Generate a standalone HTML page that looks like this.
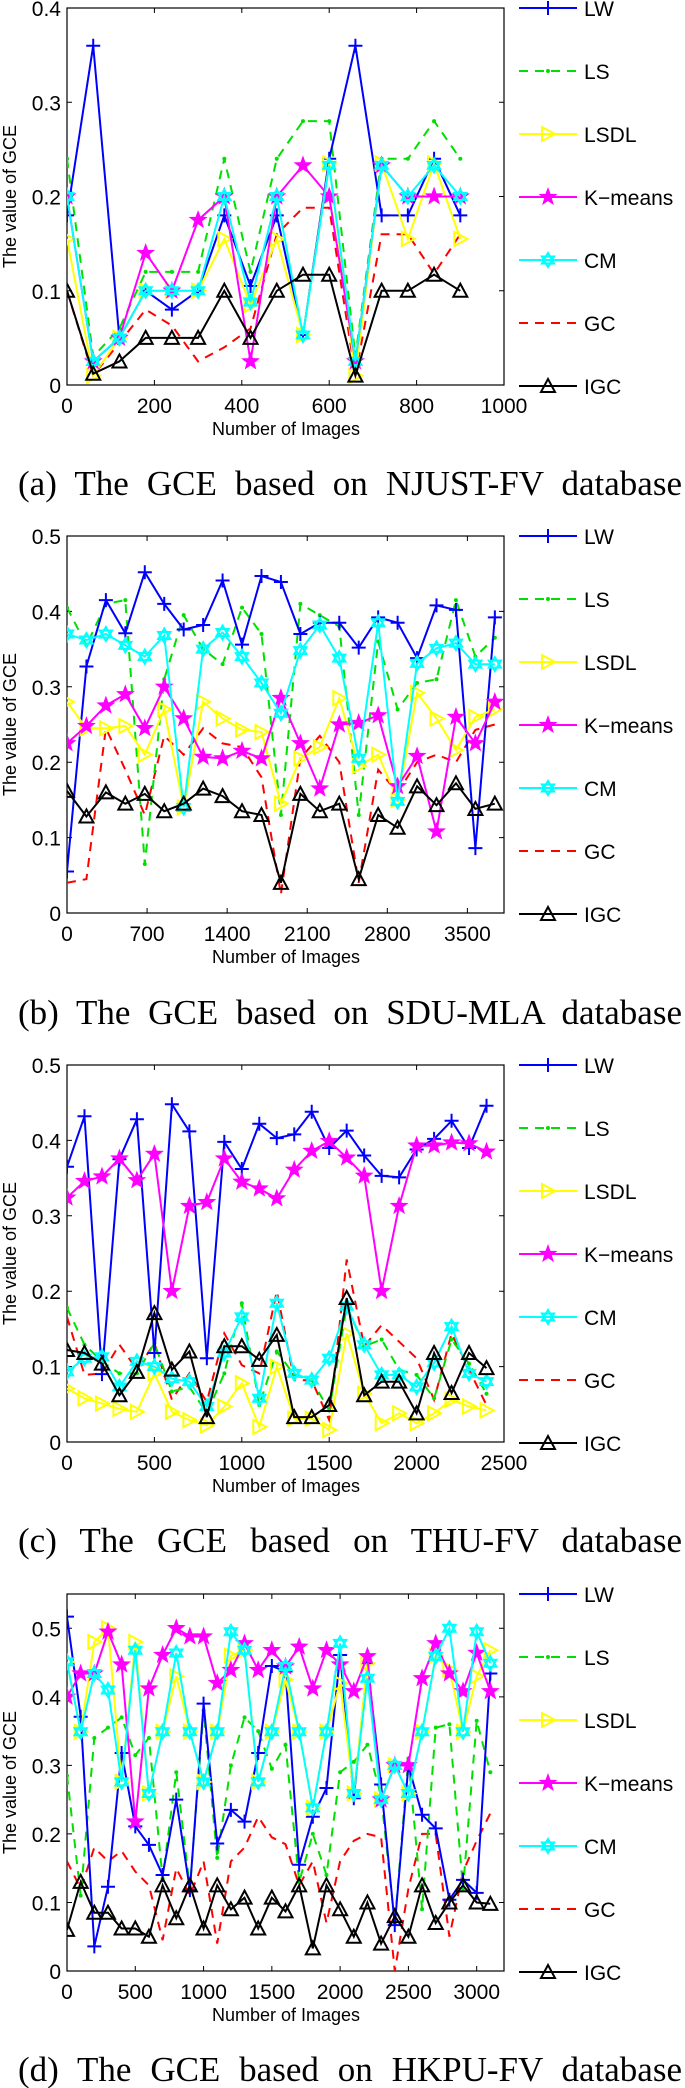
<!DOCTYPE html>
<html><head><meta charset="utf-8"><style>
body{margin:0;background:#fff;width:685px;height:2088px;overflow:hidden}
svg{display:block}
</style></head><body>
<svg id="fig" width="685" height="2088" xmlns="http://www.w3.org/2000/svg" font-family="Liberation Sans, sans-serif"></svg>
<script>
const seriesNames = ["LW","LS","LSDL","K-means","CM","GC","IGC"];
// Panel (a) NJUST-FV
const aX = [0,60,120,180,240,300,360,420,480,540,600,660,720,780,840,900];
const aLW = [0.18,0.36,0.05,0.1,0.08,0.1,0.18,0.105,0.18,0.053,0.24,0.36,0.18,0.18,0.24,0.18];
const aLS = [0.24,0.03,0.06,0.12,0.12,0.12,0.24,0.12,0.24,0.28,0.28,0.03,0.24,0.24,0.28,0.24];
const aLSDL = [0.155,0.01,0.05,0.1,0.1,0.1,0.155,0.085,0.155,0.053,0.235,0.01,0.235,0.155,0.235,0.155];
const aKM = [0.2,0.025,0.05,0.14,0.1,0.175,0.2,0.025,0.2,0.233,0.2,0.025,0.233,0.2,0.2,0.2];
const aCM = [0.2,0.025,0.05,0.1,0.1,0.1,0.2,0.088,0.2,0.053,0.233,0.025,0.233,0.2,0.233,0.2];
const aGC = [0.1,0.01,0.045,0.08,0.063,0.025,0.04,0.06,0.16,0.188,0.188,0.01,0.16,0.16,0.118,0.16];
const aIGC = [0.1,0.012,0.025,0.05,0.05,0.05,0.1,0.05,0.1,0.117,0.117,0.01,0.1,0.1,0.117,0.1];
const aXTicks = [0,200,400,600,800,1000];
const aYTicks = [0,0.1,0.2,0.3,0.4];
// Panel (b) SDU-MLA
const bX = [0,170,340,510,680,850,1020,1190,1360,1530,1700,1870,2040,2210,2380,2550,2720,2890,3060,3230,3400,3570,3740];
const bLW = [0.055,0.327,0.415,0.371,0.452,0.41,0.376,0.382,0.441,0.356,0.447,0.439,0.37,0.385,0.385,0.352,0.392,0.385,0.338,0.408,0.402,0.086,0.392];
const bLS = [0.405,0.355,0.41,0.415,0.065,0.31,0.395,0.35,0.33,0.405,0.37,0.13,0.41,0.395,0.38,0.13,0.36,0.27,0.305,0.31,0.415,0.34,0.365];
const bLSDL = [0.28,0.245,0.245,0.248,0.21,0.27,0.14,0.28,0.258,0.243,0.24,0.145,0.205,0.22,0.285,0.195,0.21,0.15,0.292,0.258,0.216,0.26,0.27];
const bKM = [0.225,0.248,0.275,0.29,0.245,0.3,0.258,0.207,0.205,0.215,0.205,0.285,0.225,0.165,0.25,0.252,0.262,0.168,0.208,0.108,0.26,0.225,0.28];
const bCM = [0.37,0.362,0.37,0.355,0.34,0.368,0.14,0.35,0.372,0.34,0.305,0.265,0.348,0.382,0.338,0.205,0.385,0.148,0.331,0.351,0.358,0.33,0.33];
const bGC = [0.04,0.045,0.245,0.19,0.13,0.235,0.21,0.245,0.225,0.22,0.18,0.025,0.205,0.235,0.2,0.04,0.19,0.16,0.2,0.21,0.2,0.243,0.25];
const bIGC = [0.162,0.128,0.16,0.145,0.158,0.135,0.145,0.165,0.155,0.135,0.13,0.04,0.158,0.135,0.145,0.045,0.13,0.113,0.168,0.143,0.172,0.138,0.145];
const bXTicks = [0,700,1400,2100,2800,3500];
const bYTicks = [0,0.1,0.2,0.3,0.4,0.5];
// Panel (c) THU-FV
const cX = [0,100,200,300,400,500,600,700,800,900,1000,1100,1200,1300,1400,1500,1600,1700,1800,1900,2000,2100,2200,2300,2400];
const cLW = [0.365,0.432,0.09,0.375,0.428,0.118,0.448,0.412,0.111,0.398,0.362,0.422,0.403,0.408,0.438,0.39,0.413,0.38,0.353,0.351,0.388,0.402,0.426,0.39,0.446];
const cLS = [0.178,0.129,0.107,0.091,0.091,0.131,0.067,0.073,0.038,0.091,0.184,0.049,0.12,0.089,0.082,0.042,0.18,0.127,0.136,0.096,0.089,0.058,0.136,0.104,0.064];
const cLSDL = [0.071,0.058,0.051,0.044,0.04,0.091,0.04,0.029,0.022,0.047,0.078,0.02,0.1,0.031,0.031,0.016,0.144,0.064,0.025,0.038,0.025,0.038,0.056,0.047,0.042];
const cKM = [0.324,0.346,0.352,0.376,0.347,0.382,0.2,0.313,0.318,0.376,0.345,0.336,0.323,0.361,0.386,0.399,0.377,0.353,0.2,0.313,0.393,0.393,0.397,0.396,0.385];
const cCM = [0.093,0.111,0.113,0.073,0.107,0.1,0.084,0.08,0.047,0.118,0.166,0.058,0.184,0.091,0.082,0.111,0.18,0.129,0.089,0.089,0.073,0.105,0.153,0.091,0.08];
const cGC = [0.166,0.089,0.091,0.129,0.096,0.131,0.056,0.091,0.053,0.144,0.102,0.091,0.2,0.082,0.082,0.029,0.242,0.127,0.155,0.133,0.111,0.056,0.144,0.096,0.049];
const cIGC = [0.122,0.118,0.104,0.062,0.093,0.171,0.096,0.12,0.033,0.127,0.127,0.109,0.142,0.033,0.033,0.049,0.191,0.062,0.08,0.08,0.038,0.118,0.065,0.118,0.098];
const cXTicks = [0,500,1000,1500,2000,2500];
const cYTicks = [0,0.1,0.2,0.3,0.4,0.5];
// Panel (d) HKPU-FV
const dX = [0,100,200,300,400,500,600,700,800,900,1000,1100,1200,1300,1400,1500,1600,1700,1800,1900,2000,2100,2200,2300,2400,2500,2600,2700,2800,2900,3000,3100];
const dLW = [0.517,0.371,0.036,0.123,0.318,0.211,0.184,0.14,0.25,0.118,0.39,0.186,0.235,0.218,0.318,0.445,0.437,0.155,0.225,0.267,0.461,0.252,0.449,0.272,0.067,0.3,0.228,0.208,0.104,0.133,0.114,0.434];
const dLS = [0.285,0.11,0.34,0.355,0.37,0.315,0.34,0.135,0.29,0.12,0.38,0.165,0.3,0.37,0.35,0.295,0.33,0.13,0.2,0.14,0.29,0.305,0.33,0.255,0.07,0.31,0.09,0.355,0.36,0.12,0.365,0.29];
const dLSDL = [0.451,0.349,0.48,0.5,0.276,0.48,0.259,0.349,0.43,0.349,0.276,0.349,0.46,0.468,0.276,0.349,0.425,0.349,0.238,0.349,0.42,0.259,0.449,0.25,0.3,0.259,0.349,0.46,0.44,0.349,0.43,0.468];
const dKM = [0.4,0.434,0.434,0.495,0.447,0.218,0.412,0.461,0.5,0.488,0.488,0.42,0.439,0.478,0.439,0.468,0.444,0.473,0.412,0.468,0.447,0.408,0.459,0.25,0.3,0.3,0.427,0.478,0.434,0.408,0.464,0.408];
const dCM = [0.451,0.349,0.434,0.41,0.276,0.468,0.259,0.349,0.464,0.349,0.276,0.349,0.495,0.468,0.276,0.349,0.444,0.349,0.238,0.349,0.478,0.259,0.427,0.25,0.3,0.259,0.349,0.459,0.5,0.349,0.495,0.449];
const dGC = [0.16,0.12,0.18,0.16,0.175,0.145,0.125,0.045,0.15,0.11,0.16,0.04,0.16,0.18,0.225,0.195,0.185,0.125,0.16,0.07,0.16,0.19,0.2,0.195,0.0,0.12,0.2,0.2,0.05,0.145,0.19,0.23];
const dIGC = [0.06,0.13,0.085,0.085,0.062,0.062,0.05,0.125,0.077,0.125,0.062,0.125,0.09,0.107,0.062,0.107,0.087,0.125,0.033,0.125,0.09,0.05,0.1,0.04,0.08,0.05,0.125,0.07,0.1,0.125,0.1,0.098];
const dXTicks = [0,500,1000,1500,2000,2500,3000];
const dYTicks = [0,0.1,0.2,0.3,0.4,0.5];

const NS = "http://www.w3.org/2000/svg";
const svg = document.getElementById('fig');
function mk(tag, attrs, parent){const e=document.createElementNS(NS,tag);for(const k in attrs)e.setAttribute(k,attrs[k]);(parent||svg).appendChild(e);return e;}

const styles = [
 {c:'#0000ff',dash:null,m:'plus'},
 {c:'#00e000',dash:'9,7',m:'dot'},
 {c:'#ffff00',dash:null,m:'tri-right'},
 {c:'#ff00ff',dash:null,m:'star'},
 {c:'#00ffff',dash:null,m:'hex'},
 {c:'#ff0000',dash:'9,7',m:null},
 {c:'#000000',dash:null,m:'tri-up'}
];

function marker(g,type,x,y,c){
  let e;
  if(type==='plus'){e=mk('path',{d:`M${x-7},${y}H${x+7}M${x},${y-7}V${y+7}`,stroke:c,'stroke-width':2,fill:'none'},g);}
  else if(type==='dot'){e=mk('circle',{cx:x,cy:y,r:2,fill:c},g);}
  else if(type==='tri-right'){e=mk('path',{d:`M${x-6},${y-7}L${x+7},${y}L${x-6},${y+7}Z`,stroke:c,'stroke-width':2,fill:'none'},g);}
  else if(type==='tri-up'){e=mk('path',{d:`M${x},${y-7}L${x+7},${y+6}L${x-7},${y+6}Z`,stroke:c,'stroke-width':2,fill:'none'},g);}
  else if(type==='star'){let p='';for(let i=0;i<10;i++){const r=i%2?3.5:8.5;const a=-Math.PI/2+i*Math.PI/5;p+=(i?'L':'M')+(x+r*Math.cos(a)).toFixed(1)+','+(y+r*Math.sin(a)).toFixed(1);}e=mk('path',{d:p+'Z',fill:c,stroke:c,'stroke-width':1},g);}
  else if(type==='hex'){const r=7;e=mk('path',{d:`M${x},${y-r}L${x+r*0.87},${y+r/2}L${x-r*0.87},${y+r/2}ZM${x},${y+r}L${x+r*0.87},${y-r/2}L${x-r*0.87},${y-r/2}Z`,stroke:c,'stroke-width':2,fill:'none'},g);}
  return e;
}

const panels = [
 {id:'a',top:8,xmax:1000,ymax:0.4,xs:aX,data:[aLW,aLS,aLSDL,aKM,aCM,aGC,aIGC],xt:aXTicks,yt:aYTicks,cap:'(a) The GCE based on NJUST-FV database',capY:495},
 {id:'b',top:536,xmax:3820,ymax:0.5,xs:bX,data:[bLW,bLS,bLSDL,bKM,bCM,bGC,bIGC],xt:bXTicks,yt:bYTicks,cap:'(b) The GCE based on SDU-MLA database',capY:1024},
 {id:'c',top:1065,xmax:2500,ymax:0.5,xs:cX,data:[cLW,cLS,cLSDL,cKM,cCM,cGC,cIGC],xt:cXTicks,yt:cYTicks,cap:'(c) The GCE based on THU-FV database',capY:1552},
 {id:'d',top:1594,xmax:3200,ymax:0.55,xs:dX,data:[dLW,dLS,dLSDL,dKM,dCM,dGC,dIGC],xt:dXTicks,yt:dYTicks,cap:'(d) The GCE based on HKPU-FV database',capY:2081}
];
const L=67,R=504,H=377;
panels.forEach(p=>{
  const g=mk('g',{});
  
  
  const T=p.top,B=p.top+H;
  const sx=v=>L+v/p.xmax*(R-L);
  const sy=v=>B-v/p.ymax*H;
  const clipId='clip'+p.id;
  const cp=mk('clipPath',{id:clipId},g);mk('rect',{x:L,y:T,width:R-L,height:H},cp);
  const box=mk('rect',{x:L,y:T,width:R-L,height:H,fill:'#fff',stroke:'#000','stroke-width':1.2},g);
  
  
  p.xt.forEach(t=>{const x=sx(t);mk('path',{d:`M${x},${B}V${B-5}M${x},${T}V${T+5}`,stroke:'#000'},g);
    const tx=mk('text',{x:x,y:B+28,'font-size':21,'text-anchor':'middle'},g);tx.textContent=t;
    
    });
  p.yt.forEach(t=>{const y=sy(t);mk('path',{d:`M${L},${y}H${L+5}M${R},${y}H${R-5}`,stroke:'#000'},g);
    const tx=mk('text',{x:L-6,y:y+8,'font-size':21,'text-anchor':'end'},g);tx.textContent=(t===0?'0':String(t));
    
    });
  const xl=mk('text',{x:286,y:B+50,'font-size':18,'text-anchor':'middle'},g);xl.textContent='Number of Images';
  
  
  const yl=mk('text',{x:0,y:0,'font-size':18,'text-anchor':'middle',transform:`translate(16,${T+H/2}) rotate(-90)`},g);yl.textContent='The value of GCE';
  
  
  const pg=mk('g',{'clip-path':`url(#${clipId})`},g);
  [5,1,0,2,3,4,6].forEach(si=>{
    const st=styles[si],vals=p.data[si];
    const pts=vals.map((v,i)=>sx(p.xs[i]).toFixed(1)+','+sy(v).toFixed(1)).join(' ');
    const a={points:pts,fill:'none',stroke:st.c,'stroke-width':2};if(st.dash)a['stroke-dasharray']=st.dash;
    const pl=mk('polyline',a,pg);
    
    
    if(st.m)vals.forEach((v,i)=>marker(pg,st.m,sx(p.xs[i]),sy(v),st.c));
  });
  seriesNames.forEach((n,si)=>{
    const st=styles[si],y=T+si*63;
    const lg=mk('g',{},g);
    
    
    const a={d:`M519,${y}H577`,stroke:st.c,'stroke-width':2};if(st.dash)a['stroke-dasharray']=st.dash;mk('path',a,lg);
    if(st.m)marker(lg,st.m,548,y,st.c);
    const tx=mk('text',{x:584,y:y+8,'font-size':21},lg);tx.textContent=n.replace('-','\u2212');
  });
  const cap=mk('text',{x:18,y:p.capY,'font-size':35,'font-family':'Liberation Serif, serif'},svg);
  cap.textContent=p.cap;
  
  
  const w=cap.getComputedTextLength();
  if(w>0){const ws=(664-w)/6; if(ws>0) cap.setAttribute('word-spacing',String(ws)); else cap.setAttribute('font-size',String(35*664/w));}
});
</script>
</body></html>
